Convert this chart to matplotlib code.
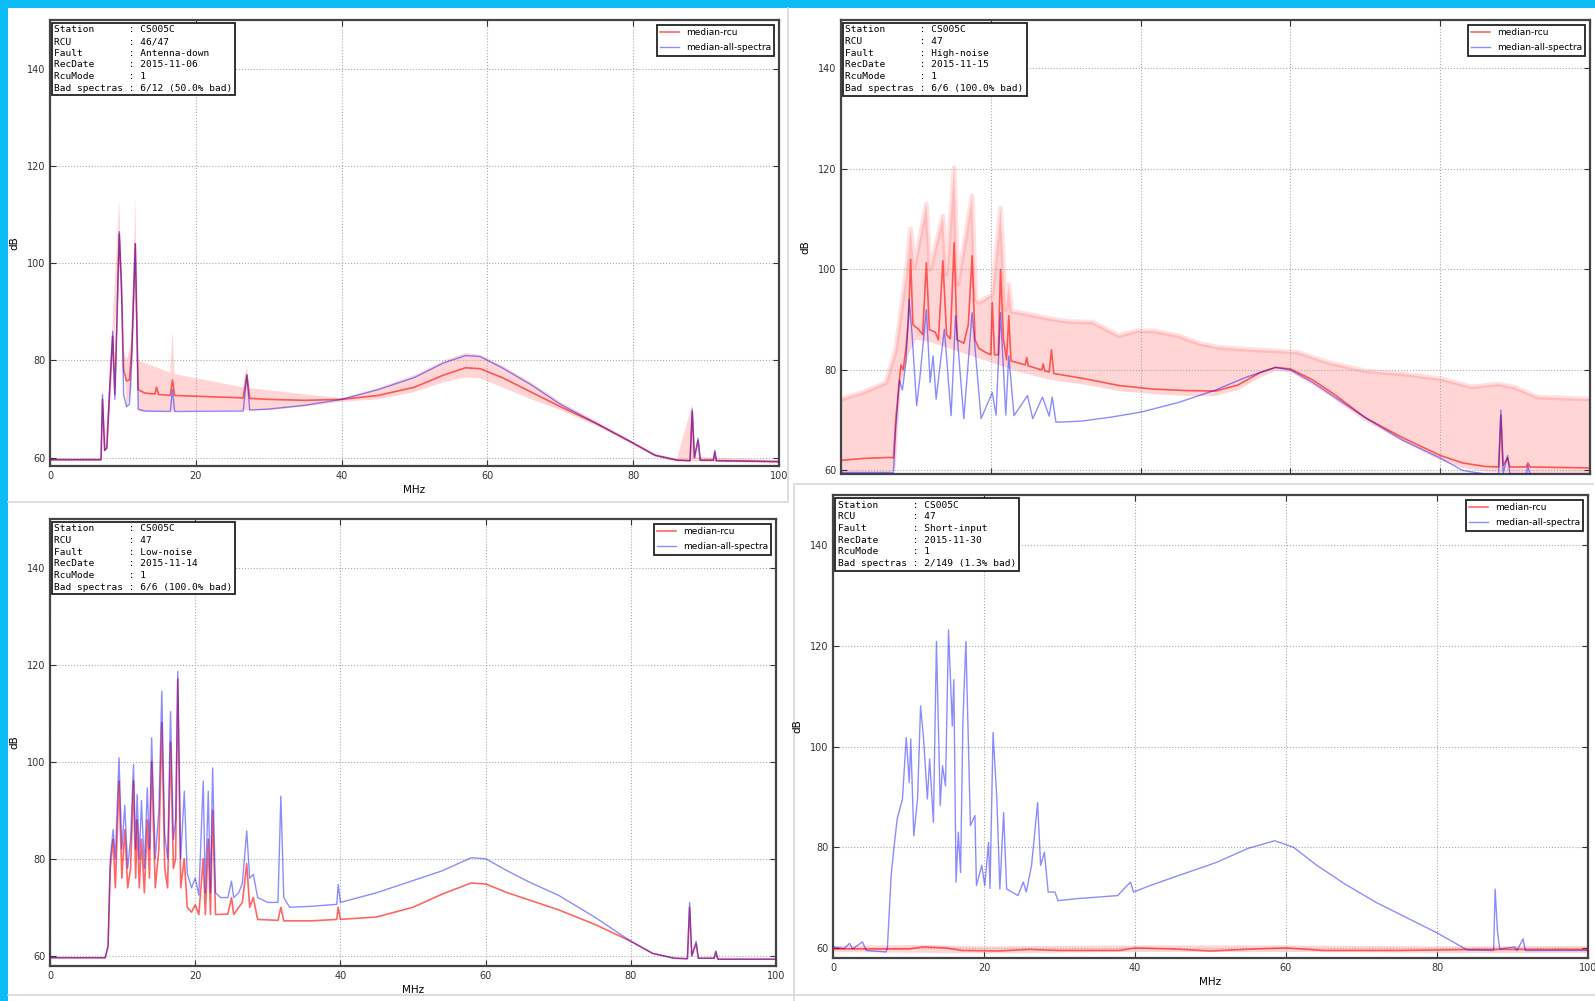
import numpy as np
import matplotlib
matplotlib.use("Agg")
import matplotlib.pyplot as plt
from matplotlib.patches import Rectangle
from matplotlib.lines import Line2D

W, H = 1595, 1001

# ---- info box texts ----
station = ["CS005C", "CS005C", "CS005C", "CS005C"]
rcu = ["46/47", "47", "47", "47"]
fault = ["Antenna-down", "High-noise", "Low-noise", "Short-input"]
recdate = ["2015-11-06", "2015-11-15", "2015-11-14", "2015-11-30"]
rcumode = ["1", "1", "1", "1"]
bad = ["6/12 (50.0% bad)", "6/6 (100.0% bad)", "6/6 (100.0% bad)", "2/149 (1.3% bad)"]

# ---- panel 1: Antenna-down (MHz, dB) ----
ad_all = [(0, 59.6), (7.0, 59.6), (7.2, 73), (7.5, 61.5), (7.8, 62), (8.2, 75), (8.6, 86), (8.9, 72),
          (9.2, 90), (9.5, 106.5), (9.8, 95), (10.1, 73), (10.5, 70.5), (10.9, 71), (11.2, 80),
          (11.7, 104), (12.1, 70), (13, 69.6), (16.5, 69.5), (16.8, 74), (17.1, 69.5), (26.5, 69.6),
          (27, 77), (27.4, 69.8), (30, 70), (35, 70.8), (40, 72), (45, 74), (50, 76.5), (54, 79.5),
          (57, 81), (59, 80.8), (62, 78.5), (66, 75), (70, 71), (75, 67), (80, 63), (83, 60.5),
          (86, 59.5), (87.8, 59.4), (88.1, 70), (88.4, 60), (88.9, 64), (89.2, 59.5), (91, 59.5),
          (91.2, 61.5), (91.4, 59.4), (100, 59.2)]
ad_rcu = [(0, 59.6), (7.0, 59.6), (7.2, 72), (7.5, 61.5), (7.8, 62), (8.2, 74), (8.6, 85), (8.9, 73),
          (9.2, 89), (9.5, 106), (9.8, 96), (10.1, 78), (10.5, 75.8), (10.9, 76), (11.2, 82),
          (11.7, 104), (12.1, 74), (13, 73.3), (14.4, 73.1), (14.6, 74.5), (14.9, 73), (16.5, 72.8),
          (16.8, 76), (17.1, 72.8), (26.5, 72.3), (27, 77), (27.4, 72.2), (30, 72), (35, 71.8),
          (40, 72), (45, 72.8), (50, 74.5), (54, 77), (57, 78.5), (59, 78.3), (62, 76.5), (66, 73.5),
          (70, 70.5), (75, 67), (80, 63), (83, 60.5), (86, 59.5), (87.8, 59.4), (88.1, 69.5),
          (88.4, 60), (88.9, 63.5), (89.2, 59.5), (91, 59.5), (91.2, 61.2), (91.4, 59.4), (100, 59.2)]
ad_band_hi = [(0, 59.9), (7, 59.9), (7.2, 75), (7.5, 62), (8.2, 76), (8.6, 88), (9.5, 113), (10.1, 82),
              (10.5, 80), (11.2, 84), (11.7, 113.5), (12.1, 80), (16.5, 77.5), (16.8, 86), (17.1, 77.2),
              (26.5, 74.5), (27, 79), (27.4, 74.3), (40, 72.2), (45, 74.3), (50, 77), (54, 80),
              (57, 81.5), (59, 81.2), (62, 79), (66, 75.5), (70, 71.5), (75, 67.5), (80, 63.3),
              (83, 60.8), (86, 59.8), (88.1, 71), (88.4, 60.2), (100, 59.5)]
ad_band_lo = [(100, 58.9), (88.4, 59.2), (86, 59.2), (83, 60.2), (80, 62.7), (75, 66.5), (70, 69.8),
              (66, 72), (62, 74.5), (59, 76.3), (57, 76.5), (54, 75.5), (50, 73.5), (45, 72),
              (40, 71.5), (35, 70.5), (30, 69.8), (12.1, 69.5), (11.7, 95), (11.2, 74), (10.5, 70),
              (9.5, 100), (8.6, 80), (8.2, 70), (7.5, 61), (7.2, 68), (7, 59.3), (0, 59.3)]

# ---- panel 2: High-noise ----
hn_rcu = [(0, 62), (3, 62.4), (6.5, 62.6), (7.0, 62.5), (7.3, 70), (7.8, 78), (8.0, 81), (8.3, 80),
          (8.7, 84.8), (9.0, 90), (9.3, 102), (9.6, 89), (10.4, 88), (10.9, 87), (11.4, 101.3),
          (11.8, 88), (12.6, 87.5), (13.0, 86), (13.6, 101.7), (14.1, 87), (14.6, 86.2), (15.1, 105.3),
          (15.5, 86), (16.4, 85.3), (17.0, 89), (17.5, 102.7), (17.9, 86), (18.4, 84.3), (19.3, 83.5),
          (20.0, 83), (20.2, 93.4), (20.5, 83), (21.0, 83), (21.3, 100), (21.7, 86), (22.1, 82),
          (22.4, 90.8), (22.7, 81.8), (24.6, 81), (24.8, 82.5), (25.0, 80.8), (26.8, 80), (27.0, 81.2),
          (27.2, 79.8), (27.8, 79.6), (28.1, 84), (28.4, 79.3), (32.7, 78.2), (37.1, 76.9),
          (41.6, 76.2), (46, 75.9), (50, 75.8), (53, 77), (56, 79.5), (58, 80.5), (60, 80.2),
          (63, 78), (66, 75), (70, 70.5), (75, 66.5), (80, 63), (83, 61.5), (86, 60.8), (87.8, 60.7),
          (88.1, 71), (88.4, 61), (89, 62.5), (89.3, 60.7), (91.5, 60.7), (91.7, 61.5), (92, 60.7),
          (100, 60.5)]
hn_all = [(0, 59.6), (7.0, 59.6), (7.3, 68), (7.8, 78), (8.2, 76), (8.7, 82), (9.1, 94), (9.5, 86.8),
          (10.1, 72.9), (10.5, 78), (11.4, 92), (11.9, 77.5), (12.3, 82.8), (12.7, 74.2), (13.8, 88.1),
          (14.7, 70.9), (15.3, 90.8), (16.4, 70.3), (17.5, 91.4), (18.7, 70.3), (20.2, 75.5),
          (20.7, 71), (21.3, 91.4), (22.0, 71), (22.4, 82.8), (23.1, 70.9), (24.9, 74.9), (25.6, 70.3),
          (26.9, 74.6), (27.8, 70.8), (28.2, 74.6), (28.7, 69.6), (32, 69.8), (36, 70.6), (40, 71.6),
          (45, 73.5), (50, 76), (54, 78.5), (58, 80.5), (60, 80), (63, 77.5), (66, 74.5), (70, 70.5),
          (75, 66), (80, 62.5), (83, 60), (86, 59.3), (87.8, 59.2), (88.1, 72), (88.4, 59.5),
          (89, 63), (89.3, 59.3), (91.5, 59.3), (91.7, 61), (92, 59.2), (100, 59.2)]
hn_band_hi = [(0, 74.2), (2.9, 75.5), (6.0, 77.5), (7.3, 84), (8.7, 99.4), (9.3, 108), (9.8, 100.5),
              (11.4, 113), (11.9, 100), (13.6, 110.6), (14.1, 99), (15.1, 120.2), (15.6, 97),
              (17.5, 114.6), (18.0, 94), (18.4, 93.4), (20.2, 95), (21.3, 112.2), (22.0, 92),
              (22.4, 97), (22.8, 91.6), (23.8, 91.4), (28.2, 90.1), (30.5, 89.6), (33.6, 89.5),
              (37.1, 86.8), (39.5, 87.8), (42, 87.7), (45, 86.8), (48, 85.2), (50.4, 84.5), (55, 84),
              (58, 83.8), (61, 83.5), (65, 81.5), (70, 79.8), (75, 79.2), (80.2, 78.2), (84.2, 76.6),
              (87.8, 77.2), (90, 76.5), (93, 74.6), (100, 74.2)]
hn_band_lo = [(100, 59.3), (90, 59.5), (86, 59.8), (83, 60.5), (80, 62), (75, 65.8), (70, 69.8),
              (66, 74), (63, 77), (60, 79.5), (58, 79.8), (56, 78.5), (53, 76), (50, 74.8),
              (46, 74.8), (41.6, 75.2), (37.1, 75.8), (32.7, 77), (28, 78), (24, 79.5), (20, 81.5),
              (16, 83.5), (12, 85.5), (10, 86), (9, 83), (8.0, 77), (7.3, 60.5), (6.5, 59.5), (0, 59.5)]

# ---- panel 3: Low-noise ----
ln_all = [(0, 59.6), (7.6, 59.6), (8.0, 62), (8.3, 80), (8.7, 86), (9.0, 80), (9.5, 100.8), (9.9, 82),
          (10.3, 91), (10.7, 78), (11.1, 84), (11.5, 99.4), (11.8, 82), (12.0, 93.2), (12.3, 80),
          (12.6, 92), (13.0, 78), (13.4, 94.6), (13.7, 82), (14.0, 104.9), (14.5, 80), (15.0, 90),
          (15.4, 114.5), (15.8, 85), (16.2, 80), (16.6, 110.3), (17.0, 84), (17.3, 88), (17.6, 118.6),
          (18.0, 80), (18.5, 93.9), (18.9, 77), (19.5, 74), (20.0, 76), (20.5, 72.5), (21.1, 96),
          (21.4, 73), (21.8, 93.9), (22.1, 73), (22.4, 98.7), (22.8, 73), (23.5, 72), (24.5, 72),
          (25.0, 75.4), (25.3, 72), (26.0, 73), (26.5, 75), (27.1, 85.7), (27.5, 76), (28.0, 76.8),
          (28.6, 72), (30, 71), (31.4, 71), (31.8, 92.9), (32.2, 72), (33, 70), (36, 70.2),
          (39.5, 70.6), (39.7, 74.7), (40, 71), (45, 73), (50, 75.5), (54, 77.5), (58, 80.2),
          (60, 80), (63, 77.5), (66, 75.2), (70, 72.5), (75, 68), (80, 63), (83, 60.5), (86, 59.5),
          (87.8, 59.4), (88.1, 71), (88.4, 60), (89, 63), (89.3, 59.5), (91.5, 59.5), (91.7, 61),
          (92, 59.3), (100, 59.3)]
ln_rcu = [(0, 59.6), (7.6, 59.6), (8.0, 62), (8.3, 78), (8.7, 84), (9.0, 74), (9.5, 96), (9.9, 76),
          (10.3, 86), (10.7, 74), (11.1, 78), (11.5, 96), (11.8, 76), (12.0, 88), (12.3, 74),
          (12.6, 84), (13.0, 73), (13.4, 88), (13.7, 76), (14.0, 100), (14.5, 74), (15.0, 82),
          (15.4, 108), (15.8, 78), (16.2, 74), (16.6, 104), (17.0, 78), (17.3, 80), (17.6, 117),
          (18.0, 74), (18.5, 80), (18.9, 70), (19.5, 69), (20.0, 70.5), (20.5, 68.5), (21.1, 80),
          (21.4, 68.5), (21.8, 84), (22.1, 68.5), (22.4, 90), (22.8, 68.5), (24.5, 68.6), (25.0, 72),
          (25.3, 68.5), (26.0, 70), (26.5, 71), (27.1, 79), (27.5, 70), (28.0, 72), (28.6, 67.5),
          (31.4, 67.3), (31.8, 70), (32.2, 67.2), (36, 67.2), (39.5, 67.5), (39.7, 70), (40, 67.5),
          (45, 68), (50, 70), (54, 72.7), (58, 75), (60, 74.8), (63, 73), (66, 71.5), (70, 69.5),
          (75, 66.5), (80, 63), (83, 60.5), (86, 59.5), (87.8, 59.4), (88.1, 70), (88.4, 60),
          (89, 62.5), (89.3, 59.5), (91.5, 59.5), (91.7, 60.8), (92, 59.3), (100, 59.3)]

# ---- panel 4: Short-input ----
si_all = [(0, 60.2), (1.5, 59.9), (2.2, 60.9), (2.6, 59.8), (3.9, 61.2), (4.4, 59.5), (7.0, 59.2),
          (7.2, 59.9), (7.7, 74.4), (8.1, 80.3), (8.5, 85.6), (9.2, 89.6), (9.7, 101.8), (10.1, 92.9),
          (10.3, 101.5), (10.7, 82.3), (11.2, 89.6), (11.6, 108.1), (12.0, 101.5), (12.5, 89.6),
          (12.8, 97.5), (13.3, 85), (13.7, 120.9), (14.2, 88.3), (14.5, 96.2), (14.9, 92.2),
          (15.3, 123.2), (15.8, 104.1), (16.0, 113.3), (16.3, 73.1), (16.6, 83), (16.9, 75),
          (17.2, 104.8), (17.6, 120.9), (18.2, 84.3), (18.8, 86.3), (19.0, 72.4), (19.7, 76.4),
          (20.1, 72.4), (20.6, 81), (20.8, 71.8), (21.2, 102.8), (21.7, 89.6), (22.1, 71.7),
          (22.6, 86.9), (23.0, 71.7), (24.5, 70.4), (25.2, 73.1), (25.6, 71.1), (26.3, 76.4),
          (27.1, 88.9), (27.5, 76.4), (28.0, 79), (28.5, 71.1), (29.4, 71.1), (29.8, 69.4),
          (32.4, 69.8), (37.7, 70.4), (39.4, 73.1), (39.8, 71.1), (42, 72.4), (46, 74.5), (50.8, 77),
          (55, 79.8), (58.5, 81.3), (61, 80), (64, 76.5), (67.8, 72.7), (72, 69), (76, 66), (80, 63),
          (84, 59.6), (87.5, 59.5), (87.7, 71.7), (88.0, 63.5), (88.3, 59.8), (90.3, 60.2),
          (90.6, 59.5), (91.4, 61.8), (91.7, 59.5), (100, 59.5)]
si_rcu = [(0, 59.8), (10, 59.8), (12, 60.2), (15, 60.0), (17, 59.5), (22, 59.4), (26, 59.7), (30, 59.5),
          (38, 59.5), (40, 60.0), (45, 59.8), (50, 59.4), (56, 59.8), (60, 60.0), (65, 59.5),
          (75, 59.5), (80, 59.6), (85, 59.7), (100, 59.7)]
si_band_hi = [(0, 60.4), (12, 60.6), (20, 60.3), (40, 60.5), (60, 60.5), (80, 60.3), (100, 60.4)]
si_band_lo = [(100, 59.0), (80, 59.0), (60, 59.2), (40, 59.2), (20, 58.9), (0, 59.2)]

xticks = [0, 20, 40, 60, 80, 100]
yticks = [60, 80, 100, 120, 140]

# axes boxes in pixels: left, top, right, bottom
boxes = [(50, 20, 779, 466), (841, 20, 1590, 474), (50, 519, 776, 966), (833, 495, 1588, 958)]
ylims = [(58.3, 150), (59.3, 149.6), (57.9, 150), (58.0, 150)]
edge_glow = [False, True, False, False]
show_xlabels = [True, False, True, True]   # top-right screenshot is cut below the axis

panels = [
    (ad_rcu, ad_all, ad_band_hi, ad_band_lo),
    (hn_rcu, hn_all, hn_band_hi, hn_band_lo),
    (ln_rcu, ln_all, None, None),
    (si_rcu, si_all, si_band_hi, si_band_lo),
]

fig = plt.figure(figsize=(W / 100, H / 100), dpi=100, facecolor="#0cbcf5")

# white screenshot area and thin separators (behind the axes)
fig.patches.append(Rectangle((8 / W, 0), 1 - 8 / W, 1 - 8 / H, transform=fig.transFigure,
                             facecolor="white", edgecolor="none", zorder=-2))
sep = dict(color="#d8d8d8", lw=1.2, transform=fig.transFigure, zorder=-1)
fig.lines.append(Line2D([788 / W, 788 / W], [1 - 8 / H, 1 - 500 / H], **sep))
fig.lines.append(Line2D([794 / W, 794 / W], [1 - 486 / H, 0], **sep))
fig.lines.append(Line2D([8 / W, 788 / W], [1 - 502 / H, 1 - 502 / H], **sep))
fig.lines.append(Line2D([794 / W, 1 - 2 / W], [1 - 484 / H, 1 - 484 / H], **sep))
fig.lines.append(Line2D([8 / W, 1], [1 - 995 / H, 1 - 995 / H], **sep))


def xy(pairs):
    a = np.array(pairs, dtype=float)
    return a[:, 0], a[:, 1]


for i, (rcu_s, all_s, hi, lo) in enumerate(panels):
    l, t, r, b = boxes[i]
    ax = fig.add_axes([l / W, 1 - b / H, (r - l) / W, (b - t) / H])

    if hi is not None:
        fx, fy = xy(hi + lo)
        ax.fill(fx, fy, color="#ff3030", alpha=0.2, lw=0, zorder=1)
        if edge_glow[i]:
            ux, uy = xy(hi)
            ax.plot(ux, uy, color="#ff3030", alpha=0.15, lw=3.5, zorder=1)

    rx, ry = xy(rcu_s)
    ax.plot(rx, ry, color="red", alpha=0.6, lw=1.2, label="median-rcu", zorder=3)
    bx, by = xy(all_s)
    ax.plot(bx, by, color="blue", alpha=0.45, lw=1.0, label="median-all-spectra", zorder=4)

    ax.set_xlim(0, 100)
    ax.set_ylim(*ylims[i])
    ax.set_xticks(xticks)
    ax.set_yticks(yticks)
    ax.grid(True, color="#aaaaaa", linestyle=":", lw=0.8)
    ax.tick_params(direction="in", top=True, right=True, length=4, labelsize=7, colors="#333333")
    for s in ax.spines.values():
        s.set_linewidth(1.6)
        s.set_color("#444444")
    if show_xlabels[i]:
        ax.set_xlabel("MHz", fontsize=7.5, labelpad=3)
    else:
        ax.tick_params(labelbottom=False)
    ax.set_ylabel("dB", fontsize=7.5, labelpad=5)

    info = "\n".join([
        f"{'Station':<12} : {station[i]}",
        f"{'RCU':<12} : {rcu[i]}",
        f"{'Fault':<12} : {fault[i]}",
        f"{'RecDate':<12} : {recdate[i]}",
        f"{'RcuMode':<12} : {rcumode[i]}",
        f"{'Bad spectras':<12} : {bad[i]}",
    ])
    ax.text(0.006, 0.988, info, transform=ax.transAxes, va="top", ha="left",
            family="DejaVu Sans Mono", fontsize=6.8, linespacing=1.38, zorder=6,
            bbox=dict(boxstyle="square,pad=0.3", fc="white", ec="#222222", lw=1.3))

    leg = ax.legend(loc="upper right", fontsize=6.5, fancybox=False, handlelength=2,
                    labelspacing=0.7, borderaxespad=0.5, framealpha=1)
    leg.get_frame().set_edgecolor("#222222")
    leg.get_frame().set_linewidth(1.3)
    leg.set_zorder(6)

fig.savefig("out.png", dpi=100, facecolor=fig.get_facecolor())
